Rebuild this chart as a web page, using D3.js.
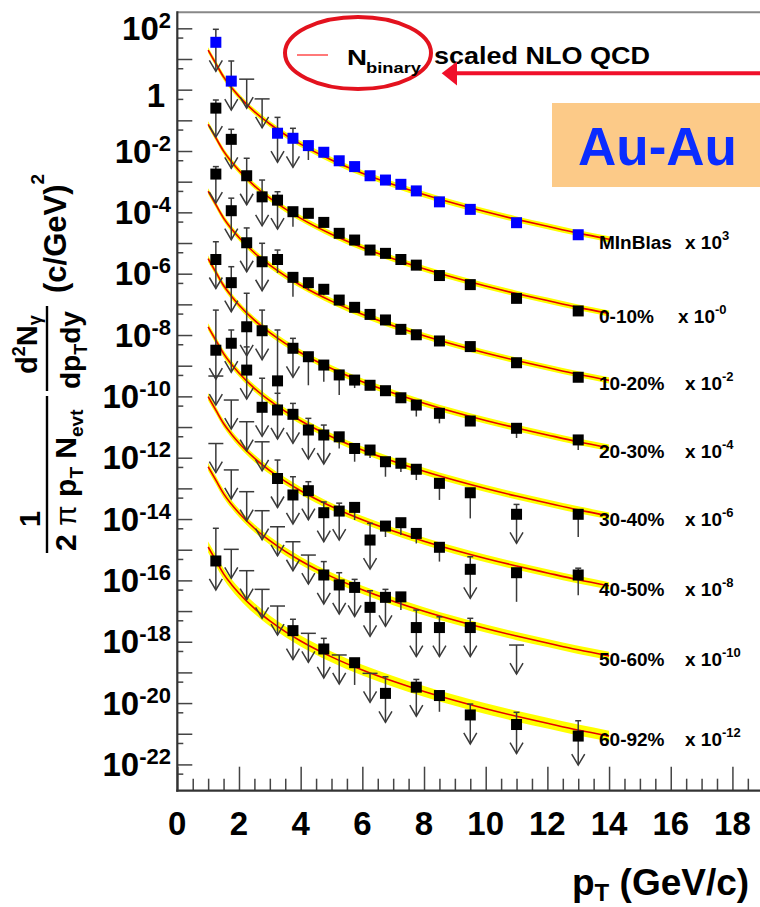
<!DOCTYPE html>
<html>
<head>
<meta charset="utf-8">
<title>Direct photons Au-Au</title>
<script src="https://cdn.jsdelivr.net/npm/d3@7/dist/d3.min.js"></script>
<style>
  body { margin: 0; background: #fff; }
  #graf svg { display: block; font-family: "Liberation Sans", Arial, Helvetica, sans-serif; font-weight: bold; }
</style>
</head>
<body>
<div id="graf"></div>
<script>
// 1. Data

const ptBins = [1.25, 1.75, 2.25, 2.75, 3.25, 3.75, 4.25, 4.75, 5.25, 5.75, 6.25, 6.75, 7.25, 7.75, 8.5, 9.5, 11, 13]

// val = point (null -> upper limit only), hi = top of error bar / limit, lo = bottom of error bar, arr = downward arrow
const mbVal = [35, 1.9, null, null, 3.8e-2, 2.6e-2, 1.5e-2, 9.1e-3, 4.8e-3, 3.1e-3, 1.56e-3, 1.13e-3, 8.2e-4, 5.0e-4, 2.2e-4, 1.25e-4, 4.6e-5, 1.86e-5]
const mbHi = [93, 8.6, 2.2, 0.5, 0.125, 5.5e-2, null, null, null, null, null, null, null, null, null, null, null, null]
const mbLo = [null, null, null, null, null, null, 5.1e-3, null, null, null, null, null, null, null, null, null, null, null]
const mbArr = [1, 1, 1, 1, 1, 1, 0, 0, 0, 0, 0, 0, 0, 0, 0, 0, 0, 0]

const c0Val = [0.25, 2.4e-2, 1.56e-3, 3.2e-4, 2.5e-4, 1.05e-4, 9.3e-5, 4.7e-5, 2.07e-5, 1.25e-5, 5.9e-6, 4.6e-6, 2.9e-6, 1.9e-6, 8.7e-7, 4.4e-7, 1.57e-7, 6.1e-8]
const c0Hi = [0.46, 5.1e-2, 5.8e-3, 1.13e-3, 4.7e-4, null, null, null, null, null, null, null, null, null, null, null, null, null]
const c0Lo = [null, null, null, null, null, 3.4e-5, null, null, null, null, null, null, null, null, null, null, null, null]
const c0Arr = [1, 1, 1, 1, 1, 0, 0, 0, 0, 0, 0, 0, 0, 0, 0, 0, 0, 0]

const c1Val = [1.77e-3, 1.13e-4, 1.02e-5, 2.45e-6, 2.9e-6, 7.6e-7, 5.1e-7, 3.1e-7, 1.38e-7, 8.0e-8, 4.7e-8, 3.1e-8, 1.53e-8, 1.02e-8, 6.4e-9, 4.2e-9, 1.25e-9, 4.2e-10]
const c1Hi = [3.1e-3, 2.9e-4, 3.1e-5, 9.8e-6, 5.9e-6, null, null, null, null, null, null, null, null, null, null, null, null, null]
const c1Lo = [null, null, null, null, 1.05e-6, 1.77e-7, 2.9e-7, 2.0e-7, null, null, null, null, null, null, null, null, null, null]
const c1Arr = [1, 1, 1, 1, 0, 0, 0, 0, 0, 0, 0, 0, 0, 0, 0, 0, 0, 0]

const c2Val = [2.9e-6, 5.1e-7, 1.86e-8, 1.38e-8, 3.2e-10, 3.7e-9, 1.96e-9, 1.05e-9, 5.0e-10, 3.4e-10, 2.3e-10, 1.53e-10, 9.0e-11, 5.2e-11, 2.8e-11, 1.57e-11, 9.1e-12, 3.8e-12]
const c2Hi = [1.1e-5, 1.69e-6, 2.3e-7, 6.5e-8, 1.46e-8, 7.8e-9, null, null, null, null, null, null, null, null, null, null, null, null]
const c2Lo = [null, null, null, null, 1.29e-10, null, 2.3e-10, 3.0e-10, 1.1e-10, 1.87e-10, null, null, null, 2.2e-11, 1.32e-11, null, 4.4e-12, 1.78e-12]
const c2Arr = [1, 1, 1, 1, 0, 1, 0, 0, 0, 0, 0, 0, 0, 0, 0, 0, 0, 0]

const c3Val = [3.2e-9, 5.4e-9, 7.2e-10, 4.4e-11, 3.6e-11, 2.6e-11, 8.0e-12, 5.5e-12, 4.8e-12, 2.0e-12, 1.78e-12, 7.4e-13, 6.6e-13, 4.2e-13, 1.46e-13, 7.2e-14, 1.43e-14, 1.43e-14]
const c3Hi = [6.5e-8, 1.46e-8, 4.1e-9, 3.9e-10, 1.26e-10, 5.9e-11, 1.92e-11, 1.16e-11, null, null, null, null, null, null, null, null, 3.0e-14, null]
const c3Lo = [null, null, null, null, null, null, null, null, 2.0e-12, 7.4e-13, 9.8e-13, 2.4e-13, 3.4e-13, 1.87e-13, 4.2e-14, 1.05e-14, null, 2.6e-15]
const c3Arr = [1, 1, 1, 1, 1, 1, 1, 1, 0, 0, 0, 0, 0, 0, 0, 0, 1, 0]

const c4Val = [null, null, null, null, 2.1e-13, 6.1e-14, 8.4e-14, 1.61e-14, 1.82e-14, 2.4e-14, 2.07e-15, 5.9e-15, 7.6e-15, 3.4e-15, 1.2e-15, 2.3e-16, 1.78e-16, 1.5e-16]
const c4Hi = [4.6e-10, 7.6e-11, 1.49e-11, 3.3e-12, 8.4e-13, 2.4e-13, 1.65e-13, 3.6e-14, 3.3e-14, null, 7.2e-15, null, null, null, null, 5.9e-16, null, 2.5e-16]
const c4Lo = [null, null, null, null, null, null, null, null, null, 9.3e-15, null, 2.6e-15, 3.0e-15, 1.6e-15, 4.1e-16, null, 2.0e-17, 3.3e-17]
const c4Arr = [1, 1, 1, 1, 1, 1, 1, 1, 1, 0, 1, 0, 0, 0, 0, 1, 0, 0]

const c5Val = [null, null, null, null, null, null, null, 1.5e-16, 7.1e-17, 5.9e-17, 1.32e-17, 2.8e-17, 2.9e-17, 2.9e-18, 2.9e-18, 2.9e-18, null, null]
const c5Hi = [2.9e-12, 4.0e-13, 7.8e-14, 1.87e-14, 5.6e-15, 1.82e-15, 6.7e-16, 4.1e-16, 1.78e-16, 1.08e-16, 4.6e-17, 5.1e-17, null, 1.08e-17, 6.5e-18, 5.8e-18, 7.8e-19, null]
const c5Lo = [null, null, null, null, null, null, null, null, null, null, null, null, 1.08e-17, null, null, null, null, null]
const c5Arr = [1, 1, 1, 1, 1, 1, 1, 1, 1, 1, 1, 1, 0, 1, 1, 1, 1, 0]

const c6Val = [4.3e-16, null, null, null, null, 2.3e-18, null, 5.8e-19, null, 2.07e-19, null, 2.07e-20, null, 3.3e-20, 1.76e-20, 4.1e-21, 2.0e-21, 8.4e-22]
const c6Hi = [5.0e-15, 1.03e-15, 2.07e-16, 5.1e-17, 1.46e-17, 5.4e-18, 1.88e-18, 1.29e-18, 3.7e-19, null, 9.3e-20, 7.2e-20, null, 5.9e-20, null, 9.3e-21, 5.0e-21, 2.65e-21]
const c6Lo = [null, null, null, null, null, null, null, null, null, 3.9e-20, null, null, null, null, 5.2e-21, null, null, null]
const c6Arr = [1, 1, 1, 1, 1, 1, 1, 1, 1, 0, 1, 1, 0, 1, 0, 1, 1, 1]

const seriesNames = ["MInBlas", "0-10%", "10-20%", "20-30%", "30-40%", "40-50%", "50-60%", "60-92%"]
const seriesExps = ["3", "-0", "-2", "-4", "-6", "-8", "-10", "-12"]

// N_binary scaled NLO QCD, minimum bias curve (x 10^3), and the factor for each class
const nloPt = [1, 1.25, 1.5, 1.75, 2, 2.5, 3, 3.5, 4, 5, 6, 7, 8, 9, 10, 11, 12, 13, 14]
const nloMinBias = [19.5, 7.1, 2.6, 1.19, 0.605, 0.193, 7.6e-2, 3.4e-2, 1.68e-2, 5.1e-3, 1.89e-3, 8.1e-4, 3.8e-4, 1.93e-4, 1.04e-4, 5.9e-5, 3.5e-5, 2.1e-5, 1.33e-5]
const nloScale = [1, 3.8e-3, 2.5e-5, 1.58e-7, 9.5e-10, 5.0e-12, 2.6e-14, 6.3e-17]
const nloBand = [1.25, 1.25, 1.26, 1.28, 1.3, 1.32, 1.36, 1.5]

// tick labels
const xTickLabels = [0, 2, 4, 6, 8, 10, 12, 14, 16, 18]
const yLabelExps = [2, 0, -2, -4, -6, -8, -10, -12, -14, -16, -18, -20, -22]

function drawChart() {

  // 2. Dimensions

  const dims = {
    width: 760,
    height: 907,
    left: 177.3,
    right: 794.1,
    top: 12.3,
    bottom: 790.7,
  }

  // 3. Canvas

  const svg = d3.select("#graf")
    .append("svg")
      .attr("width", dims.width)
      .attr("height", dims.height)

  // 4. Scales

  const x = d3.scaleLinear().domain([0, 20]).range([dims.left, dims.right])
  const y = d3.scaleLog().domain([1.39e-23, 333]).range([dims.bottom, dims.top])

  const series = [mbVal, c0Val, c1Val, c2Val, c3Val, c4Val, c5Val, c6Val].map((val, i) => ({
    name: seriesNames[i],
    exp: seriesExps[i],
    val,
    hi: [mbHi, c0Hi, c1Hi, c2Hi, c3Hi, c4Hi, c5Hi, c6Hi][i],
    lo: [mbLo, c0Lo, c1Lo, c2Lo, c3Lo, c4Lo, c5Lo, c6Lo][i],
    arr: [mbArr, c0Arr, c1Arr, c2Arr, c3Arr, c4Arr, c5Arr, c6Arr][i],
    scale: nloScale[i],
    band: nloBand[i],
    color: i == 0 ? "#0000ff" : "#000",
  }))

  // 5. Theory curves

  const curves = svg.append("g")
  series.forEach(s => {
    const pts = nloPt.map((pt, j) => ({ pt, v: nloMinBias[j] * s.scale }))
    curves.append("path")
      .datum(pts)
      .attr("fill", "#ffff00")
      .attr("d", d3.area()
        .x(d => x(d.pt))
        .y0(d => y(d.v / s.band))
        .y1(d => y(d.v * s.band))
        .curve(d3.curveMonotoneX))
    curves.append("path")
      .datum(pts)
      .attr("fill", "none")
      .attr("stroke", "#e60000")
      .attr("stroke-width", 1.6)
      .attr("d", d3.line()
        .x(d => x(d.pt))
        .y(d => y(d.v))
        .curve(d3.curveMonotoneX))
  })

  // 6. Data points

  const arrowLen = 29
  const pointsG = svg.append("g")
    .attr("stroke", "#3a3a3a")
    .attr("stroke-width", 1.5)
    .attr("fill", "none")

  series.forEach(s => {
    ptBins.forEach((pt, i) => {
      const v = s.val[i], hi = s.hi[i], lo = s.lo[i]
      if (v == null && hi == null) return
      const px = x(pt)
      const y0 = v != null ? y(v) : y(hi)
      if (hi != null) {
        const capW = v != null ? 3 : 7.5
        pointsG.append("line").attr("x1", px).attr("x2", px).attr("y1", y(hi)).attr("y2", y0)
        pointsG.append("line").attr("x1", px - capW).attr("x2", px + capW).attr("y1", y(hi)).attr("y2", y(hi))
      }
      if (lo != null) {
        pointsG.append("line").attr("x1", px).attr("x2", px).attr("y1", y0).attr("y2", y(lo))
      }
      if (s.arr[i]) {
        const tip = y0 + arrowLen
        pointsG.append("line").attr("x1", px).attr("x2", px).attr("y1", y0).attr("y2", tip)
        pointsG.append("path").attr("d", `M${px - 6.5},${tip - 11} L${px},${tip} L${px + 6.5},${tip - 11}`)
      }
    })
  })

  series.forEach(s => {
    svg.append("g")
      .selectAll("rect")
      .data(ptBins.map((pt, i) => ({ pt, v: s.val[i] })).filter(d => d.v != null))
      .join("rect")
        .attr("x", d => x(d.pt) - 5.5)
        .attr("y", d => y(d.v) - 5.5)
        .attr("width", 11)
        .attr("height", 11)
        .attr("fill", s.color)
  })

  // series labels
  const labels = svg.append("g").style("font-size", "19px")
  series.forEach((s, i) => {
    const ly = y(nloMinBias[nloMinBias.length - 1] * s.scale) + 10
    const t = labels.append("text").attr("x", 599).attr("y", ly)
    t.append("tspan").text(s.name)
    t.append("tspan").attr("x", i == 1 ? 678 : 685).text("x 10")
    t.append("tspan").attr("dy", -9).style("font-size", "13px").text(s.exp)
  })

  // 7. Axes

  const axisColor = "#444"

  svg.append("g")
      .attr("transform", `translate(${dims.left},0)`)
      .style("color", axisColor)
      .call(d3.axisRight(y).tickValues(d3.range(-22, 3).map(e => 10 ** e)).tickSize(15).tickFormat(""))
      .call(g => g.select(".domain").remove())
      .call(g => g.selectAll("line").attr("stroke-width", 1.5))
  svg.append("g")
      .attr("transform", `translate(${dims.left},0)`)
      .style("color", axisColor)
      .call(d3.axisRight(y).tickValues(d3.range(-23, 2).map(e => 5 * 10 ** e)).tickSize(6).tickFormat(""))
      .call(g => g.select(".domain").remove())
      .call(g => g.selectAll("line").attr("stroke-width", 1.5))

  svg.append("g")
      .attr("transform", `translate(0,${dims.bottom})`)
      .style("color", axisColor)
      .call(d3.axisTop(x).tickValues(d3.range(0, 21, 2)).tickSize(24).tickFormat(""))
      .call(g => g.select(".domain").remove())
      .call(g => g.selectAll("line").attr("stroke-width", 1.5))
  svg.append("g")
      .attr("transform", `translate(0,${dims.bottom})`)
      .style("color", axisColor)
      .call(d3.axisTop(x).tickValues(d3.range(0.5, 20, 0.5).filter(v => v % 2 != 0)).tickSize(12).tickFormat(""))
      .call(g => g.select(".domain").remove())
      .call(g => g.selectAll("line").attr("stroke-width", 1.5))

  // frame
  svg.append("line")
      .attr("x1", dims.left).attr("x2", dims.width).attr("y1", dims.top).attr("y2", dims.top)
      .attr("stroke", "#888").attr("stroke-width", 2)
  svg.append("line")
      .attr("x1", dims.left).attr("x2", dims.left).attr("y1", dims.top - 1).attr("y2", dims.bottom + 1)
      .attr("stroke", "#333").attr("stroke-width", 2.2)
  svg.append("line")
      .attr("x1", dims.left - 1).attr("x2", dims.width).attr("y1", dims.bottom).attr("y2", dims.bottom)
      .attr("stroke", "#333").attr("stroke-width", 2.2)

  // tick labels
  svg.append("g")
    .selectAll("text")
    .data(xTickLabels)
    .join("text")
      .attr("x", d => x(d))
      .attr("y", 835)
      .attr("text-anchor", "middle")
      .style("font-size", "33px")
      .text(d => d)

  const yLab = svg.append("g")
  yLabelExps.forEach(e => {
    const ty = y(10 ** e)
    if (e == 0) {
      yLab.append("text").attr("x", 165).attr("y", ty + 17).attr("text-anchor", "end")
        .style("font-size", "33px").text("1")
      return
    }
    const t = yLab.append("text").attr("x", 171).attr("y", ty + 11.7).attr("text-anchor", "end")
    t.append("tspan").style("font-size", "33px").text("10")
    t.append("tspan").attr("dy", -12).style("font-size", "22px").text(e)
  })

  // axis titles
  const xt = svg.append("text").attr("x", 572).attr("y", 895).style("font-size", "37px")
  xt.append("tspan").text("p")
  xt.append("tspan").attr("dy", 6).style("font-size", "24px").text("T")
  xt.append("tspan").attr("dy", -6).text(" (GeV/c)")

  const yt = svg.append("g")
  const rotText = (sx, sy, anchor, size) => yt.append("text")
      .attr("transform", `translate(${sx},${sy}) rotate(-90)`)
      .attr("text-anchor", anchor)
      .style("font-size", size + "px")

  rotText(40, 519, "middle", 29).text("1")
  yt.append("line").attr("x1", 47).attr("x2", 47).attr("y1", 396).attr("y2", 553)
      .attr("stroke", "#000").attr("stroke-width", 2.4)
  const den1 = rotText(76, 551, "start", 30)
  den1.append("tspan").text("2 ")
  den1.append("tspan").style("font-weight", "normal").text("π ")
  den1.append("tspan").text("p")
  den1.append("tspan").attr("dy", 7).style("font-size", "19px").text("T")
  den1.append("tspan").attr("dy", -7).text(" N")
  den1.append("tspan").attr("dy", 7).style("font-size", "19px").text("evt")

  const num2 = rotText(37, 374, "start", 29)
  num2.append("tspan").text("d")
  num2.append("tspan").attr("dy", -12).style("font-size", "18px").text("2")
  num2.append("tspan").attr("dy", 12).text("N")
  num2.append("tspan").attr("dy", 4).style("font-size", "18px").text("γ")
  yt.append("line").attr("x1", 47).attr("x2", 47).attr("y1", 306).attr("y2", 391)
      .attr("stroke", "#000").attr("stroke-width", 2.4)
  const den2 = rotText(80, 389, "start", 28)
  den2.append("tspan").text("dp")
  den2.append("tspan").attr("dy", 7).style("font-size", "18px").text("T")
  den2.append("tspan").attr("dy", -7).text("dy")

  const unit = rotText(66, 293, "start", 31)
  unit.append("tspan").text("(c/GeV)")
  unit.append("tspan").attr("dy", -22).style("font-size", "19px").text("2")

  // 8. Annotations

  svg.append("ellipse")
      .attr("cx", 358).attr("cy", 53).attr("rx", 73).attr("ry", 36)
      .attr("fill", "none").attr("stroke", "#e3121e").attr("stroke-width", 4)
  svg.append("line")
      .attr("x1", 297).attr("x2", 328).attr("y1", 55).attr("y2", 55)
      .attr("stroke", "#ff4d4d").attr("stroke-width", 1.5)
  svg.append("text").attr("x", 347).attr("y", 64.5).style("font-size", "22px")
      .attr("textLength", 20).attr("lengthAdjust", "spacingAndGlyphs").text("N")
  svg.append("text").attr("x", 366).attr("y", 72.5).style("font-size", "14px")
      .attr("textLength", 55).attr("lengthAdjust", "spacingAndGlyphs").text("binary")
  svg.append("text").attr("x", 434).attr("y", 63.5).style("font-size", "24px")
      .attr("textLength", 216).attr("lengthAdjust", "spacingAndGlyphs").text("scaled NLO QCD")

  svg.append("line")
      .attr("x1", dims.width).attr("x2", 455).attr("y1", 73.3).attr("y2", 73.3)
      .attr("stroke", "#f0102a").attr("stroke-width", 4)
  svg.append("path")
      .attr("d", "M441.7,73.3 L457,61.5 L457,85.5 Z")
      .attr("fill", "#f0102a")

  svg.append("rect")
      .attr("x", 552).attr("y", 103).attr("width", 220).attr("height", 84)
      .attr("fill", "#fcca88")
  svg.append("text").attr("x", 578).attr("y", 165)
      .style("font-size", "53px").attr("fill", "#0a2cff").text("Au-Au")
}
drawChart()
</script>
</body>
</html>
